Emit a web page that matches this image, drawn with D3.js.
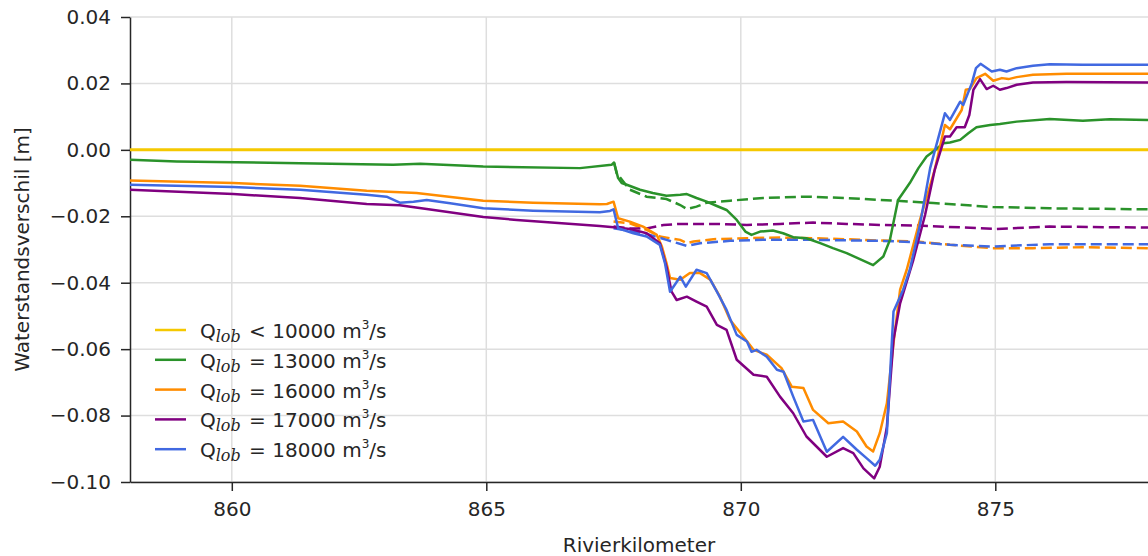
<!DOCTYPE html>
<html>
<head>
<meta charset="utf-8">
<script src="https://cdn.jsdelivr.net/npm/d3@7"></script>
<style>
  body { margin: 0; background: #fff; }
  text { font-family: "DejaVu Sans", sans-serif; fill: #262626; }
</style>
</head>
<body>
<svg width="1148" height="556"></svg>
<script>
// data: [rivierkilometer, waterstandsverschil]
let yellowSolid = [[858, 0], [878, 0]];

let greenSolid = [
  [858.00, -0.0030], [858.92, -0.0035], [861.34, -0.0040], [863.17, -0.0045], [863.70, -0.0042],
  [864.94, -0.0050], [866.84, -0.0055], [867.46, -0.0045], [867.51, -0.0038], [867.59, -0.0085],
  [867.66, -0.0100], [867.76, -0.0105], [868.02, -0.0120], [868.27, -0.0130], [868.54, -0.0138],
  [868.81, -0.0135], [868.94, -0.0133], [869.13, -0.0145], [869.33, -0.0156], [869.53, -0.0169],
  [869.72, -0.0181], [869.92, -0.0211], [870.09, -0.0246], [870.21, -0.0256], [870.38, -0.0246],
  [870.63, -0.0243], [870.83, -0.0251], [871.03, -0.0263], [871.29, -0.0266], [871.56, -0.0281],
  [871.81, -0.0296], [872.08, -0.0311], [872.34, -0.0329], [872.60, -0.0347], [872.80, -0.0321],
  [872.93, -0.0271], [873.09, -0.0151], [873.32, -0.0100], [873.49, -0.0055], [873.65, -0.0020],
  [873.78, -0.0005], [873.98, 0.0020], [874.11, 0.0022], [874.31, 0.0030], [874.47, 0.0050],
  [874.63, 0.0068], [874.90, 0.0075], [875.09, 0.0078], [875.42, 0.0085], [876.07, 0.0093],
  [876.72, 0.0088], [877.25, 0.0092], [878.00, 0.0090]
];
let greenDashed = [
  [867.51, -0.0039], [867.56, -0.0070], [867.82, -0.0120], [868.15, -0.0141], [868.54, -0.0148],
  [868.81, -0.0166], [868.94, -0.0178], [869.13, -0.0171], [869.33, -0.0159], [869.79, -0.0153],
  [870.44, -0.0145], [871.29, -0.0141], [872.08, -0.0145], [872.73, -0.0151], [873.38, -0.0156],
  [873.78, -0.0160], [874.95, -0.0172], [876.07, -0.0176], [878.00, -0.0179]
];

let orangeSolid = [
  [858.00, -0.0092], [860.03, -0.0100], [861.34, -0.0108], [862.65, -0.0123], [863.63, -0.0130],
  [864.94, -0.0153], [865.92, -0.0159], [867.23, -0.0164], [867.37, -0.0163], [867.50, -0.0156],
  [867.59, -0.0206], [867.82, -0.0216], [868.08, -0.0231], [868.35, -0.0256], [868.45, -0.0291],
  [868.54, -0.0341], [868.61, -0.0386], [868.81, -0.0391], [869.00, -0.0371], [869.20, -0.0371],
  [869.40, -0.0391], [869.59, -0.0442], [869.79, -0.0512], [870.05, -0.0562], [870.25, -0.0602],
  [870.51, -0.0617], [870.80, -0.0657], [871.00, -0.0713], [871.23, -0.0717], [871.42, -0.0783],
  [871.72, -0.0823], [872.01, -0.0818], [872.28, -0.0848], [872.47, -0.0893], [872.60, -0.0908],
  [872.73, -0.0853], [872.87, -0.0763], [873.00, -0.0582], [873.13, -0.0421], [873.26, -0.0361],
  [873.52, -0.0211], [873.81, -0.0060], [874.01, 0.0075], [874.11, 0.0062], [874.34, 0.0120],
  [874.42, 0.0181], [874.50, 0.0183], [874.63, 0.0216], [874.80, 0.0229], [874.96, 0.0208],
  [875.13, 0.0216], [875.26, 0.0213], [875.42, 0.0219], [875.74, 0.0226], [876.40, 0.0229],
  [878.00, 0.0229]
];
let orangeDashed = [
  [867.50, -0.0216], [867.82, -0.0221], [868.15, -0.0241], [868.41, -0.0261], [868.81, -0.0271],
  [868.94, -0.0281], [869.07, -0.0276], [869.46, -0.0269], [870.12, -0.0266], [870.77, -0.0264],
  [871.42, -0.0266], [872.08, -0.0269], [872.73, -0.0273], [873.46, -0.0276], [874.11, -0.0286],
  [874.95, -0.0296], [875.74, -0.0296], [876.72, -0.0293], [878.00, -0.0296]
];

let purpleSolid = [
  [858.00, -0.0120], [860.03, -0.0133], [861.34, -0.0145], [862.65, -0.0163], [863.30, -0.0167],
  [863.83, -0.0178], [864.94, -0.0202], [865.60, -0.0211], [867.23, -0.0229], [867.50, -0.0233],
  [867.82, -0.0238], [868.15, -0.0251], [868.41, -0.0281], [868.54, -0.0352], [868.64, -0.0427],
  [868.74, -0.0452], [868.94, -0.0442], [869.13, -0.0457], [869.33, -0.0472], [869.53, -0.0527],
  [869.72, -0.0542], [869.92, -0.0632], [870.25, -0.0677], [870.51, -0.0683], [870.77, -0.0743],
  [871.03, -0.0793], [871.29, -0.0863], [871.69, -0.0924], [872.01, -0.0898], [872.21, -0.0913],
  [872.41, -0.0959], [872.62, -0.0989], [872.73, -0.0954], [872.87, -0.0834], [873.00, -0.0572],
  [873.13, -0.0462], [873.39, -0.0331], [873.62, -0.0196], [873.81, -0.0060], [874.01, 0.0040],
  [874.11, 0.0040], [874.24, 0.0068], [874.40, 0.0068], [874.49, 0.0105], [874.57, 0.0181],
  [874.70, 0.0213], [874.83, 0.0183], [874.96, 0.0193], [875.09, 0.0181], [875.22, 0.0186],
  [875.42, 0.0196], [875.74, 0.0203], [876.40, 0.0204], [878.00, 0.0203]
];
let purpleDashed = [
  [867.50, -0.0231], [867.82, -0.0236], [868.15, -0.0237], [868.48, -0.0226], [868.81, -0.0223],
  [869.46, -0.0223], [870.12, -0.0226], [870.77, -0.0223], [871.42, -0.0219], [872.08, -0.0223],
  [872.73, -0.0226], [873.46, -0.0228], [875.03, -0.0238], [876.07, -0.0231], [878.00, -0.0234]
];

let blueSolid = [
  [858.00, -0.0105], [860.03, -0.0112], [861.34, -0.0120], [862.65, -0.0135], [863.04, -0.0141],
  [863.30, -0.0159], [863.57, -0.0156], [863.83, -0.0151], [864.29, -0.0161], [864.94, -0.0176],
  [865.92, -0.0183], [867.23, -0.0188], [867.43, -0.0184], [867.50, -0.0179], [867.59, -0.0236],
  [867.89, -0.0251], [868.15, -0.0261], [868.41, -0.0286], [868.51, -0.0341], [868.61, -0.0427],
  [868.81, -0.0382], [868.92, -0.0412], [869.13, -0.0361], [869.33, -0.0371], [869.53, -0.0427],
  [869.72, -0.0482], [869.92, -0.0557], [870.12, -0.0577], [870.21, -0.0608], [870.31, -0.0602],
  [870.51, -0.0623], [870.71, -0.0662], [870.84, -0.0668], [871.03, -0.0743], [871.23, -0.0818],
  [871.42, -0.0813], [871.69, -0.0909], [872.01, -0.0864], [872.28, -0.0903], [872.47, -0.0928],
  [872.64, -0.0951], [872.73, -0.0933], [872.87, -0.0853], [873.00, -0.0487], [873.19, -0.0421],
  [873.32, -0.0361], [873.52, -0.0226], [873.72, -0.0055], [874.01, 0.0110], [874.11, 0.0090],
  [874.31, 0.0145], [874.37, 0.0135], [874.54, 0.0201], [874.62, 0.0246], [874.71, 0.0259],
  [874.93, 0.0236], [875.09, 0.0241], [875.22, 0.0236], [875.42, 0.0246], [875.74, 0.0253],
  [876.07, 0.0258], [876.72, 0.0256], [878.00, 0.0256]
];
let blueDashed = [
  [867.50, -0.0236], [868.15, -0.0253], [868.54, -0.0271], [868.94, -0.0289], [869.20, -0.0281],
  [869.79, -0.0274], [870.44, -0.0271], [871.42, -0.0271], [872.73, -0.0274], [873.46, -0.0278],
  [874.11, -0.0286], [874.95, -0.0291], [876.07, -0.0284], [878.00, -0.0284]
];

let xTicks = [860, 865, 870, 875];
let yTicks = [0.04, 0.02, 0.00, -0.02, -0.04, -0.06, -0.08, -0.10];
let legendOps = ["<", "=", "=", "=", "="];
let legendQ = ["10000", "13000", "16000", "17000", "18000"];
let colors = ["#f5c800", "#2a922a", "#ff8c00", "#800080", "#4169e1"];

let svg = d3.select("svg");
let mLeft = 130, mRight = 1148, mTop = 17, mBottom = 482;

let x = d3.scaleLinear().domain([858, 878]).range([mLeft, mRight]);
let y = d3.scaleLinear().domain([-0.10, 0.04]).range([mBottom, mTop]);

//grid
svg.append("g")
  .selectAll("line")
  .data(xTicks)
  .enter()
  .append("line")
  .attr("x1", d => x(d)).attr("x2", d => x(d))
  .attr("y1", mTop).attr("y2", mBottom)
  .attr("stroke", "#dedede").attr("stroke-width", 1.5);
svg.append("g")
  .selectAll("line")
  .data(yTicks)
  .enter()
  .append("line")
  .attr("x1", mLeft).attr("x2", mRight)
  .attr("y1", d => y(d)).attr("y2", d => y(d))
  .attr("stroke", "#dedede").attr("stroke-width", 1.5);

//axes
let xAxis = svg.append("g")
  .attr("transform", "translate(0," + mBottom + ")")
  .call(d3.axisBottom(x).tickValues(xTicks).tickFormat(d3.format("d")).tickSize(9).tickPadding(11).tickSizeOuter(0));
let yAxis = svg.append("g")
  .attr("transform", "translate(" + mLeft + ",0)")
  .call(d3.axisLeft(y).tickValues(yTicks).tickFormat(d3.format(".2f")).tickSize(9).tickPadding(10).tickSizeOuter(0));
[xAxis, yAxis].forEach(a => {
  a.select(".domain").attr("stroke", "#262626").attr("stroke-width", 1.5);
  a.selectAll(".tick line").attr("stroke", "#262626").attr("stroke-width", 1.5);
  a.selectAll(".tick text").attr("font-size", 20).attr("font-family", "DejaVu Sans").attr("fill", "#262626");
});

//lines
let line = d3.line().x(d => x(d[0])).y(d => y(d[1]));
let solids = [yellowSolid, greenSolid, orangeSolid, purpleSolid, blueSolid];
let dashes = [null, greenDashed, orangeDashed, purpleDashed, blueDashed];

dashes.forEach((s, i) => {
  if (!s) return;
  svg.append("path").datum(s)
    .attr("d", line).attr("fill", "none")
    .attr("stroke", colors[i]).attr("stroke-width", 2.5)
    .attr("stroke-dasharray", "11,5");
});
solids.forEach((s, i) => {
  svg.append("path").datum(s)
    .attr("d", line).attr("fill", "none")
    .attr("stroke", colors[i]).attr("stroke-width", i == 0 ? 3 : 2.5)
    .attr("stroke-linejoin", "round");
});

//labels
svg.append("text")
  .attr("x", (mLeft + mRight) / 2).attr("y", 552)
  .attr("text-anchor", "middle").attr("font-size", 20)
  .text("Rivierkilometer");
svg.append("text")
  .attr("transform", "translate(29," + (mTop + mBottom) / 2 + ") rotate(-90)")
  .attr("text-anchor", "middle").attr("font-size", 20)
  .text("Waterstandsverschil [m]");

//legend
let legend = svg.append("g");
legendQ.forEach((q, i) => {
  let ly = 330 + i * 29.8;
  legend.append("line")
    .attr("x1", 155).attr("x2", 186).attr("y1", ly).attr("y2", ly)
    .attr("stroke", colors[i]).attr("stroke-width", 2.5);
  let t = legend.append("text").attr("x", 200).attr("y", ly + 8).attr("font-size", 20);
  t.append("tspan").text("Q");
  t.append("tspan").attr("font-family", "DejaVu Serif").attr("font-style", "italic")
    .attr("font-size", 16).attr("dy", 4).text("lob");
  t.append("tspan").attr("dy", -4).attr("dx", 2).text(" " + legendOps[i] + " " + q + " m");
  t.append("tspan").attr("font-size", 12).attr("dy", -9).text("3");
  t.append("tspan").attr("dy", 9).text("/s");
});
</script>
</body>
</html>
